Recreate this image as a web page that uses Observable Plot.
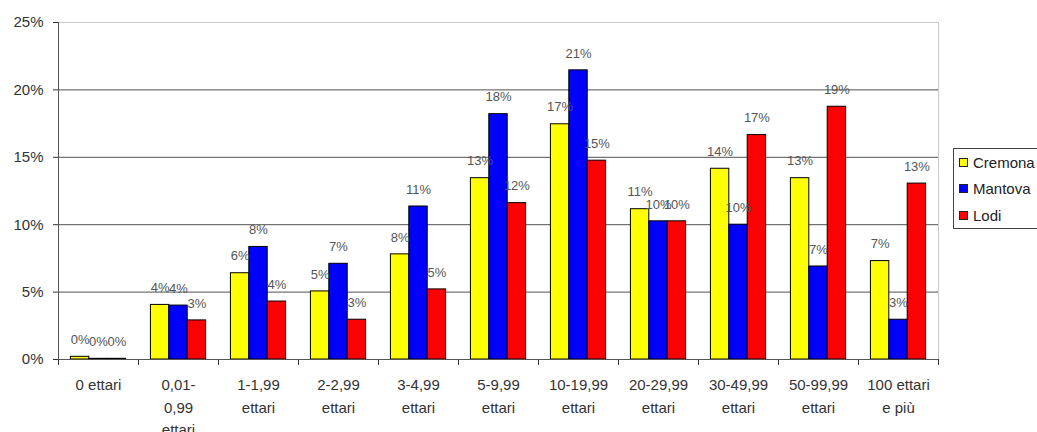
<!DOCTYPE html>
<html>
<head>
<meta charset="utf-8">
<script src="https://cdn.jsdelivr.net/npm/d3@7"></script>
<script src="https://cdn.jsdelivr.net/npm/@observablehq/plot@0.6"></script>
<style>
  html, body { margin: 0; padding: 0; background: #fff; overflow: hidden; }
  #wrap { position: relative; width: 1037px; height: 432px; }
  #legend {
    position: absolute; left: 953px; top: 148px; width: 110px; height: 81px;
    border: 1px solid #444; background: #fff; box-sizing: border-box;
    font-family: "Liberation Sans", Arial, sans-serif; font-size: 15px; color: #222;
    padding-left: 5px;
  }
  .item { display: flex; align-items: center; height: 26.5px; }
  .sw { width: 9px; height: 9px; border: 1px solid #222; margin-right: 5px; box-sizing: border-box; }
</style>
</head>
<body>
<div id="wrap">
  <div id="chart"></div>
  <div id="legend"></div>
</div>
<script>
const categories = ["0 ettari", "0,01-\n0,99\nettari", "1-1,99\nettari", "2-2,99\nettari", "3-4,99\nettari",
  "5-9,99\nettari", "10-19,99\nettari", "20-29,99\nettari", "30-49,99\nettari", "50-99,99\nettari", "100 ettari\ne più"];
const series = ["Cremona", "Mantova", "Lodi"];
const colors = ["#ffff00", "#0000ff", "#ff0000"];
const cremona = [0.2, 4.05, 6.4, 5.05, 7.8, 13.45, 17.45, 11.15, 14.15, 13.45, 7.3];
const mantova = [0.05, 4.0, 8.35, 7.1, 11.35, 18.2, 21.45, 10.25, 10.0, 6.9, 2.95];
const lodi = [0.05, 2.9, 4.3, 2.95, 5.2, 11.6, 14.75, 10.25, 16.65, 18.75, 13.05];
const yTicks = [0, 5, 10, 15, 20, 25];

const valuesBySeries = [cremona, mantova, lodi];
const barW = 0.23;
const rows = categories.flatMap((c, i) => series.map((s, k) => ({
  i, k, series: s, value: valuesBySeries[k][i],
  x1: i + (k - 1.5) * barW, x2: i + (k - 0.5) * barW
})));
const boundaries = d3.range(categories.length + 1).map(i => i - 0.5);

const chart = Plot.plot({
  width: 945, height: 432,
  marginLeft: 58, marginRight: 7, marginTop: 22, marginBottom: 73,
  style: { fontFamily: "'Liberation Sans', Arial, sans-serif", fontSize: "15px", color: "#333", background: "white", overflow: "visible" },
  x: { domain: [-0.5, categories.length - 0.5], ticks: boundaries, tickFormat: () => "", tickSize: 6, label: null },
  y: { domain: [0, 25], ticks: yTicks, tickFormat: d => d + "%", tickSize: 5, tickPadding: 10, label: null },
  color: { domain: series, range: colors },
  marks: [
    Plot.ruleY(yTicks.filter(d => d > 0 && d < 25), { stroke: "#505050" }),
    Plot.ruleY([25], { stroke: "#c8c8c8" }),
    Plot.ruleX([categories.length - 0.5], { stroke: "#c8c8c8" }),
    Plot.rectY(rows, { x1: "x1", x2: "x2", y: "value", fill: "series", stroke: "#000", strokeWidth: 1 }),
    Plot.text(rows, { x: d => (d.x1 + d.x2) / 2, y: "value", text: d => Math.round(d.value) + "%", dy: -17, fontSize: 13, fill: "#555" }),
    Plot.ruleY([0], { stroke: "#555" }),
    Plot.ruleX([-0.5], { stroke: "#555" }),
    Plot.text(categories, { x: (d, i) => i, y: () => 0, text: d => d, dy: 15, lineAnchor: "top", lineHeight: 1.5, fontSize: 15, fill: "#333" })
  ]
});
document.getElementById("chart").appendChild(chart);

const legend = document.getElementById("legend");
series.forEach((s, k) => {
  const row = document.createElement("div");
  row.className = "item";
  const sw = document.createElement("span");
  sw.className = "sw";
  sw.style.background = colors[k];
  const t = document.createElement("span");
  t.textContent = s;
  row.appendChild(sw); row.appendChild(t);
  legend.appendChild(row);
});
</script>
</body>
</html>
